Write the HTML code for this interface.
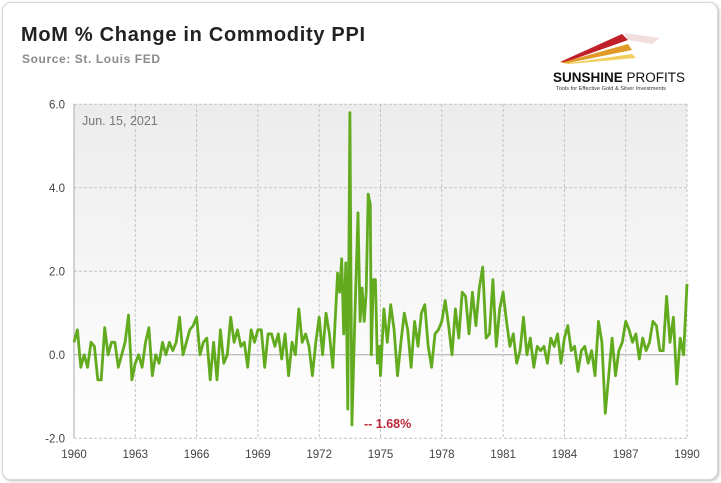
<!DOCTYPE html>
<html><head><meta charset="utf-8"><style>
body{margin:0;background:#fff;width:721px;height:483px;overflow:hidden;font-family:"Liberation Sans",sans-serif}
.card{position:absolute;left:2px;top:2px;width:714px;height:476px;border:1px solid #d8d8d8;border-radius:9px;box-shadow:1px 1px 3px #bbb;background:#fff}
</style></head><body>
<div class="card"></div>
<svg width="721" height="483" style="position:absolute;left:0;top:0">
<defs><linearGradient id="bg" x1="0" y1="0" x2="0" y2="1"><stop offset="0" stop-color="#ececec"/><stop offset="1" stop-color="#ffffff"/></linearGradient></defs>
<text x="21" y="41" font-size="20" font-weight="bold" fill="#222" letter-spacing="0.7">MoM % Change in Commodity PPI</text>
<text x="22" y="63" font-size="12" font-weight="bold" fill="#8a8a8a" letter-spacing="0.6">Source: St. Louis FED</text>
<g>
<polygon points="560,62 622,34 628,40 566,62" fill="#c0202a"/>
<polygon points="560,63 628,44 632,50 568,63" fill="#e09a28"/>
<polygon points="562,64 632,54 636,58 570,64" fill="#f2d060"/>
<polygon points="624,33 660,38 652,44 628,40" fill="#e8c8c8" opacity=".6"/>
<text x="553" y="82" font-size="13.5" font-weight="bold" fill="#111">SUNSHINE <tspan font-weight="normal">PROFITS</tspan></text>
<text x="556" y="90" font-size="5.6" fill="#333">Tools for Effective Gold &amp; Silver Investments</text>
</g>
<rect x="74" y="104" width="613" height="334" fill="url(#bg)"/>
<g id="grid"></g><g id="axes"></g>
<text x="82" y="125" font-size="12.5" fill="#777">Jun. 15, 2021</text>
<path id="line" fill="none" stroke="#62ab1f" stroke-width="2.8" stroke-linejoin="round"/>
<text x="364" y="428" font-size="12.5" font-weight="bold" fill="#b8283a">-- 1.68%</text>
</svg>
<script>
const yTicks=[-2,0,2,4,6];
const yTickLabels=["-2.0","0.0","2.0","4.0","6.0"];
const xTicks=[1960,1963,1966,1969,1972,1975,1978,1981,1984,1987,1990];
const early=[0.3,0.6,-0.3,0.0,-0.3,0.3, 0.2,-0.6,-0.6,0.65,0.0,0.3, 0.3,-0.3,0.0,0.3,0.95,-0.6, -0.2,0.0,-0.3,0.3,0.65,-0.5, 0.0,-0.2,0.3,0.0,0.3,0.1, 0.3,0.9,0.0,0.3,0.6,0.7, 0.9,0.0,0.3,0.4,-0.6,0.3, -0.6,0.6,-0.2,0.0,0.9,0.3, 0.6,0.2,0.3,-0.3,0.6,0.3, 0.6,0.6,-0.3,0.5,0.5,0.2, 0.5,-0.1,0.5,-0.5,0.3,0.0, 1.1,0.3,0.5,0.2,-0.5,0.3, 0.9,0.0,1.0,0.5,-0.3];
const spikeDates=[1972.9,1973.0,1973.1,1973.2,1973.3,1973.4,1973.5,1973.6,1973.75,1973.9,1974.0,1974.1,1974.2,1974.3,1974.4,1974.5,1974.55,1974.65,1974.75,1974.85,1974.95];
const spikeValues=[1.96,1.5,2.3,0.5,2.2,-1.3,5.8,-1.68,1.0,3.4,0.8,1.6,0.8,1.5,3.85,3.6,0.0,1.8,1.8,-0.2,0.2];
const late=[-0.5,1.1,0.3,1.2,0.6,-0.5, 0.3,1.0,0.6,-0.3,0.8,0.2, 1.0,1.2,0.2,-0.3,0.5,0.6, 0.8,1.3,0.7,0.0,1.1,0.4, 1.5,1.4,0.5,1.5,0.7,1.6, 2.1,0.4,0.5,1.8,0.2,1.1, 1.5,0.8,0.2,0.5,-0.2,0.1, 0.9,0.0,0.4,-0.3,0.2,0.1, 0.2,-0.2,0.4,0.2,0.5,-0.2, 0.4,0.7,0.1,0.2,-0.4,0.1, 0.2,-0.2,0.1,-0.5,0.8,0.3, -1.4,-0.5,0.4,-0.5,0.1,0.3, 0.8,0.6,0.3,0.5,-0.1,0.4, 0.1,0.3,0.8,0.7,0.1,0.1, 1.4,0.3,0.9,-0.7,0.4,0.0, 1.7];
const X=y=>74+(y-1960)*613/30, Y=v=>354.8-v*41.75;
const NS="http://www.w3.org/2000/svg";
const grid=document.getElementById('grid'), axes=document.getElementById('axes');
yTicks.forEach((t,i)=>{
 const l=document.createElementNS(NS,'line');
 l.setAttribute('x1',74);l.setAttribute('x2',687);l.setAttribute('y1',Y(t));l.setAttribute('y2',Y(t));
 l.setAttribute('stroke',t===0?'#aaa':'#c4c4c4');if(t!==0)l.setAttribute('stroke-dasharray','3,2');
 
 
 grid.appendChild(l);
 const tx=document.createElementNS(NS,'text');
 tx.setAttribute('x',65);tx.setAttribute('y',Y(t)+4);tx.setAttribute('text-anchor','end');tx.setAttribute('font-size','11.5');tx.setAttribute('fill','#444');
 tx.textContent=yTickLabels[i];
 
 
 axes.appendChild(tx);
});
xTicks.forEach(t=>{
 const l=document.createElementNS(NS,'line');
 l.setAttribute('x1',X(t));l.setAttribute('x2',X(t));l.setAttribute('y1',104);l.setAttribute('y2',438);
 l.setAttribute('stroke',t===1960?'#aaa':'#c4c4c4');if(t!==1960)l.setAttribute('stroke-dasharray','3,2');
 
 
 grid.appendChild(l);
 const tx=document.createElementNS(NS,'text');
 tx.setAttribute('x',X(t));tx.setAttribute('y',458);tx.setAttribute('text-anchor','middle');tx.setAttribute('font-size','11.5');tx.setAttribute('fill','#444');
 tx.textContent=t;
 
 
 axes.appendChild(tx);
});
const pts=[];
early.forEach((v,i)=>pts.push([1960+i/6,v]));
spikeDates.forEach((d,i)=>pts.push([d,spikeValues[i]]));
late.forEach((v,i)=>pts.push([1975+i/6,v]));
document.getElementById('line').setAttribute('d',pts.map((p,i)=>(i?'L':'M')+X(p[0]).toFixed(1)+','+Y(p[1]).toFixed(1)).join(''));
</script>
</body></html>
